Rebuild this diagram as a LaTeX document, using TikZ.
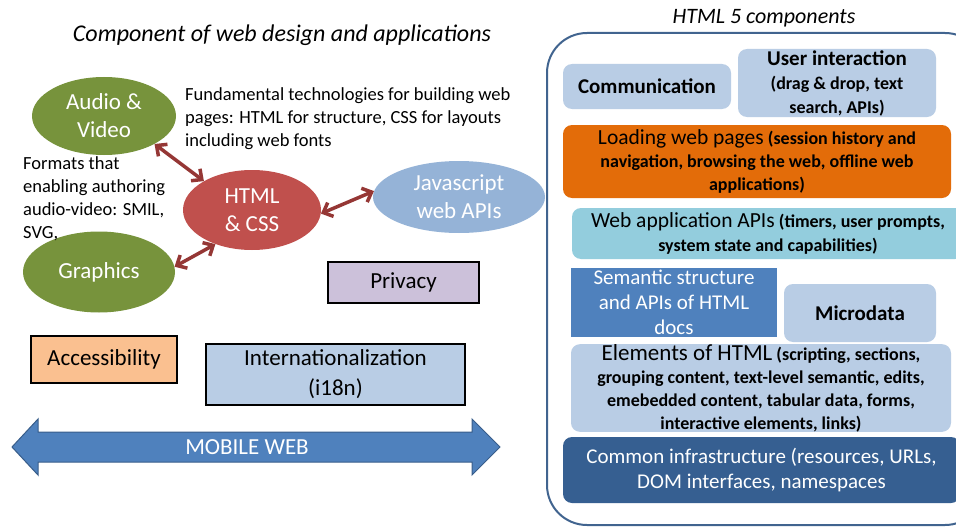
\documentclass[tikz,border=0pt]{standalone}
\usepackage{fontspec}
\setmainfont{Carlito}
\usepackage{xcolor}
\usepackage{tikz}
\usetikzlibrary{arrows.meta,shapes.geometric}

\definecolor{avgreen}{RGB}{119,147,60}
\definecolor{htmlred}{RGB}{192,80,77}
\definecolor{jsblue}{RGB}{149,179,215}
\definecolor{privlilac}{RGB}{204,193,218}
\definecolor{accorange}{RGB}{250,192,144}
\definecolor{paleblue}{RGB}{185,205,229}
\definecolor{arrowred}{RGB}{149,55,53}
\definecolor{mobblue}{RGB}{79,129,189}
\definecolor{mobedge}{RGB}{56,93,138}
\definecolor{framecol}{RGB}{65,100,143}
\definecolor{loadorange}{RGB}{227,108,9}
\definecolor{apiteal}{RGB}{147,205,221}
\definecolor{infrablue}{RGB}{54,95,145}

\begin{document}
\begin{tikzpicture}[x=1pt,y=-1pt,
    bubble/.style={ellipse,inner sep=0pt,text=white,align=center,font=\fontsize{23}{28}\selectfont},
    tagbox/.style={draw=black,line width=2pt,inner sep=0pt,align=center,font=\fontsize{23}{28}\selectfont},
    layer/.style={rounded corners=9pt,inner sep=0pt,align=center},
    note/.style={inner sep=0pt,align=left,font=\fontsize{18.5}{23}\selectfont},
    link/.style={draw=arrowred,line width=3.5pt,{Straight Barb[length=8pt,width=15pt]}-{Straight Barb[length=8pt,width=15pt]}}]
    \useasboundingbox (0,0) rectangle (956,527);
    \clip (0,0) rectangle (956,527);
    \node[font=\fontsize{24}{28}\selectfont\itshape] (lefttitle) at (282,35) {Component of web design and applications};
    \node[font=\fontsize{22}{26}\selectfont\itshape] (righttitle) at (764,18) {HTML 5 components};

    \node[bubble,fill=avgreen,minimum width=144pt,minimum height=78pt] (av) at (104,116) {Audio \&\\Video};
    \node[bubble,fill=htmlred,minimum width=138pt,minimum height=80pt] (html) at (252,210) {HTML\\\& CSS};
    \node[bubble,fill=jsblue,minimum width=172pt,minimum height=72pt] (js) at (459,197) {Javascript\\web APIs};
    \node[bubble,fill=avgreen,minimum width=152pt,minimum height=81pt] (gr) at (99,272) {Graphics};
    \draw[link] (av.-29) -- (html.149);
    \draw[link] (html.223) -- (gr.4);
    \draw[link] (html.-3) -- (js.176);

    \node[note,anchor=west] (fundnote) at (185,119) {Fundamental technologies for building web\\pages: HTML for structure, CSS for layouts\\including web fonts};
    \node[note,anchor=west] (fmtnote) at (23,199) {Formats that\\enabling authoring\\audio-video: SMIL,\\SVG,};

    \node[tagbox,fill=privlilac,minimum width=151pt,minimum height=41pt] (priv) at (403.5,282.5) {Privacy};
    \node[tagbox,fill=accorange,minimum width=146pt,minimum height=47pt] (acc) at (104,359.5) {Accessibility};
    \node[tagbox,fill=paleblue,minimum width=259pt,minimum height=61pt,font=\fontsize{23}{30}\selectfont] (intl) at (335.5,374.5) {Internationalization\\(i18n)};

    \filldraw[fill=mobblue,draw=mobedge,line width=1pt] (12,447) -- (38,419) -- (38,432) -- (472,432) -- (472,419)
      -- (500,447) -- (472,475) -- (472,462) -- (38,462) -- (38,475) -- cycle;
    \node[text=white,font=\fontsize{23}{28}\selectfont] (mob) at (247,447) {MOBILE WEB};

    \draw[draw=framecol,line width=2pt,rounded corners=40pt,fill=white] (547,33) rectangle (985,525);
    \node[layer,fill=paleblue,minimum width=168pt,minimum height=45pt,font=\fontsize{21}{24}\selectfont\bfseries] (comm) at (647,86.5) {Communication};
    \node[layer,fill=paleblue,minimum width=198pt,minimum height=68pt,font=\fontsize{18}{24}\selectfont\bfseries] (user) at (837,83)
      {{\fontsize{21}{24}\selectfont User interaction}\\(drag \& drop, text\\search, APIs)};
    \node[layer,fill=loadorange,minimum width=388pt,minimum height=73pt,font=\fontsize{18}{23}\selectfont\bfseries] (load) at (757,161.5)
      {{\fontsize{21.5}{23}\selectfont\mdseries Loading web pages} (session history and\\navigation, browsing the web, offline web\\applications)};
    \node[layer,fill=apiteal,minimum width=392pt,minimum height=51pt,font=\fontsize{18}{24}\selectfont\bfseries] (webapi) at (768,233.5)
      {{\fontsize{21.5}{24}\selectfont\mdseries Web application APIs} (timers, user prompts,\\system state and capabilities)};
    \node[fill=mobblue,inner sep=0pt,align=center,text=white,minimum width=206pt,minimum height=69pt,font=\fontsize{21}{25}\selectfont] (sem) at (674,302.5)
      {Semantic structure\\and APIs of HTML\\docs};
    \node[layer,fill=paleblue,minimum width=152pt,minimum height=58pt,font=\fontsize{21}{24}\selectfont\bfseries] (micro) at (860,313) {Microdata};
    \node[layer,fill=paleblue,minimum width=380pt,minimum height=85pt,font=\fontsize{18}{23}\selectfont\bfseries] (elem) at (761,388)
      {{\fontsize{23}{23}\selectfont\mdseries Elements of HTML} (scripting, sections,\\grouping content, text-level semantic, edits,\\emebedded content, tabular data, forms,\\interactive elements, links)};
    \node[layer,fill=infrablue,text=white,minimum width=397pt,minimum height=66pt,font=\fontsize{21}{25}\selectfont] (infra) at (761.5,470)
      {Common infrastructure (resources, URLs,\\DOM interfaces, namespaces};
  \end{tikzpicture}
\end{document}
